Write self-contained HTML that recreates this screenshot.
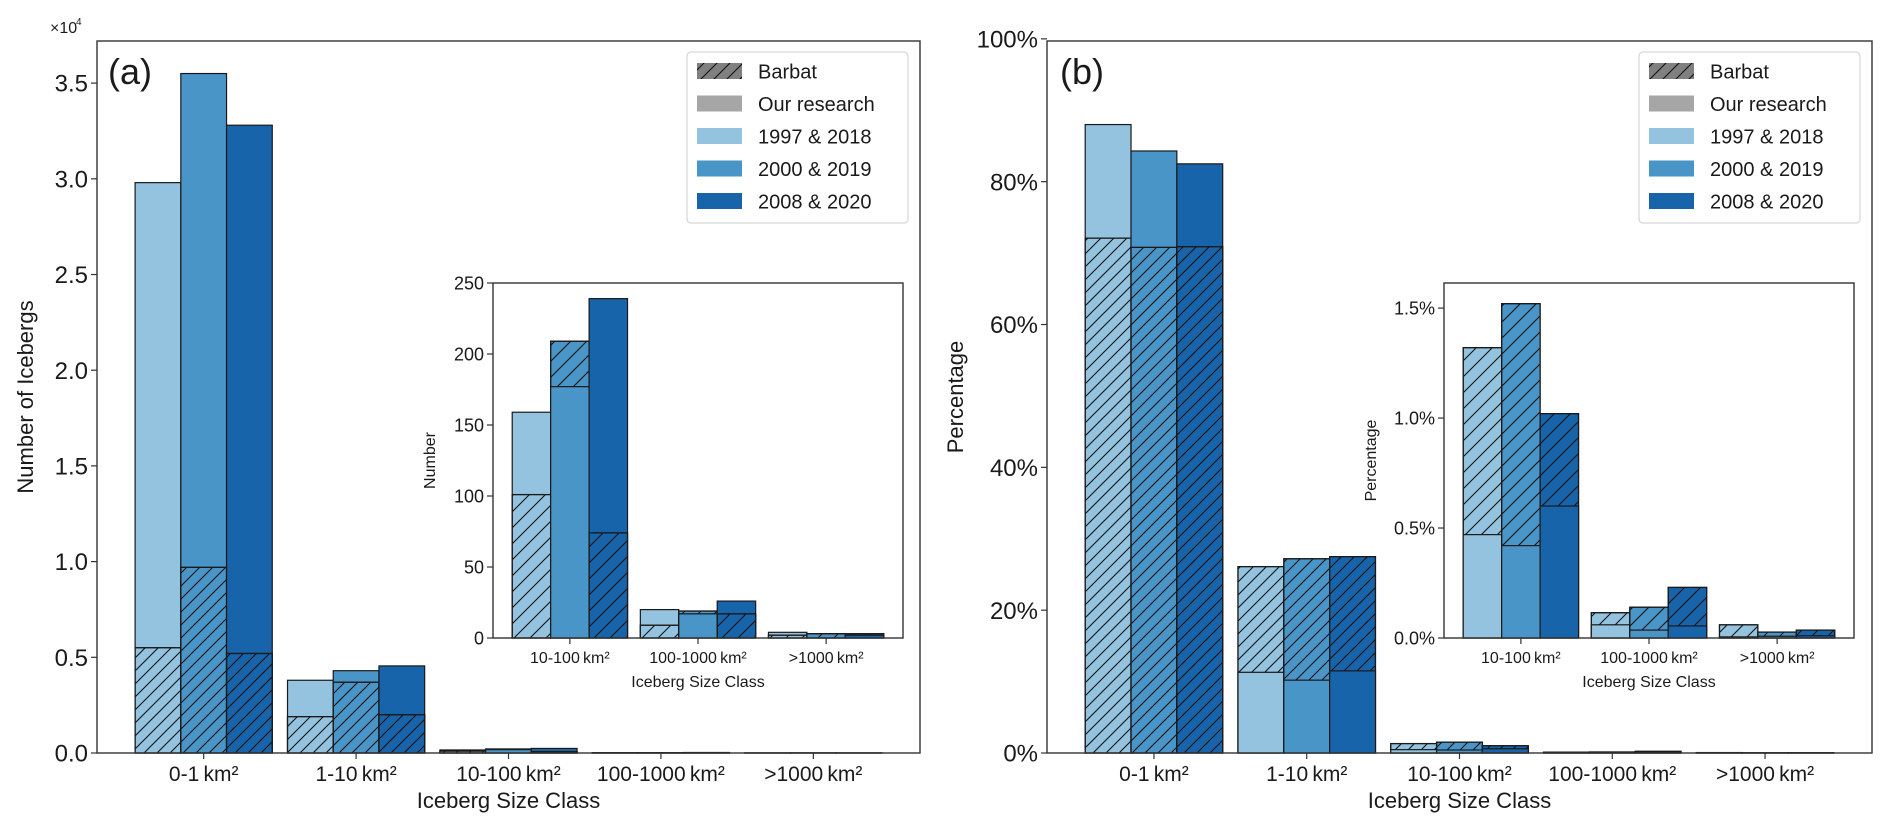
<!DOCTYPE html>
<html><head><meta charset="utf-8">
<style>
html,body{margin:0;padding:0;background:#fff;}
svg{display:block;font-family:"Liberation Sans",Arial,sans-serif;}
</style></head>
<body>
<svg id="fig" width="1892" height="837" viewBox="0 0 1892 837" xmlns="http://www.w3.org/2000/svg">
<defs>
<pattern id="hatchMain" patternUnits="userSpaceOnUse" width="13" height="13">
<path d="M0,13 L13,0 M-3,3 L3,-3 M10,16 L16,10" stroke="#111" stroke-width="1.1"/>
</pattern>
<pattern id="hatchInset" patternUnits="userSpaceOnUse" width="16" height="16">
<path d="M0,16 L16,0 M-4,4 L4,-4 M12,20 L20,12" stroke="#111" stroke-width="1.1"/>
</pattern>
</defs>
</svg>
<script>
// ---------- data ----------
const categories = ['0-1\u2009km\u00b2','1-10\u2009km\u00b2','10-100\u2009km\u00b2','100-1000\u2009km\u00b2','>1000\u2009km\u00b2'];
const insetCategories = ['10-100\u2009km\u00b2','100-1000\u2009km\u00b2','>1000\u2009km\u00b2'];
const seriesLabels = ['1997 & 2018','2000 & 2019','2008 & 2020'];
const seriesColors = ['#94c3e0','#4a95c7','#1864aa'];

// Panel (a): counts (x10^4)
const countOurs1997 = [2.98, 0.38, 0.0159, 0.0020, 0.0004];
const countOurs2000 = [3.55, 0.43, 0.0177, 0.0017, 0.0003];
const countOurs2008 = [3.28, 0.455, 0.0239, 0.0026, 0.0002];
const countBarbat1997 = [0.55, 0.19, 0.0101, 0.0009, 0.0002];
const countBarbat2000 = [0.97, 0.37, 0.0209, 0.0019, 0.0003];
const countBarbat2008 = [0.52, 0.20, 0.0074, 0.0017, 0.0003];
const countTicks = [0,0.5,1.0,1.5,2.0,2.5,3.0,3.5];
const countTickLabels = ['0.0','0.5','1.0','1.5','2.0','2.5','3.0','3.5'];

// Panel (a) inset: counts
const insetCountOurs1997 = [159, 20, 4];
const insetCountOurs2000 = [177, 17, 3];
const insetCountOurs2008 = [239, 26, 2];
const insetCountBarbat1997 = [101, 9, 2];
const insetCountBarbat2000 = [209, 19, 3];
const insetCountBarbat2008 = [74, 17, 3];
const insetCountTicks = [0,50,100,150,200,250];

// Panel (b): percentages
const pctOurs1997 = [88.0, 11.3, 0.47, 0.06, 0.005];
const pctOurs2000 = [84.3, 10.2, 0.42, 0.036, 0.008];
const pctOurs2008 = [82.5, 11.5, 0.60, 0.055, 0.01];
const pctBarbat1997 = [72.1, 26.1, 1.32, 0.115, 0.06];
const pctBarbat2000 = [70.8, 27.2, 1.52, 0.14, 0.027];
const pctBarbat2008 = [70.9, 27.5, 1.02, 0.23, 0.036];
const pctTicks = [0,20,40,60,80,100];
const pctTickLabels = ['0%','20%','40%','60%','80%','100%'];

// Panel (b) inset
const insetPctOurs1997 = [0.47, 0.06, 0.005];
const insetPctOurs2000 = [0.42, 0.036, 0.008];
const insetPctOurs2008 = [0.60, 0.055, 0.01];
const insetPctBarbat1997 = [1.32, 0.115, 0.06];
const insetPctBarbat2000 = [1.52, 0.14, 0.027];
const insetPctBarbat2008 = [1.02, 0.23, 0.036];
const insetPctTicks = [0,0.5,1.0,1.5];
const insetPctTickLabels = ['0.0%','0.5%','1.0%','1.5%'];

// ---------- drawing ----------
const NS='http://www.w3.org/2000/svg';
const svg=document.getElementById('fig');
function mk(tag,attrs,parent){const e=document.createElementNS(NS,tag);for(const k in attrs)e.setAttribute(k,attrs[k]);(parent||svg).appendChild(e);return e;}
function txt(s,attrs,parent){const e=mk('text',attrs,parent);e.textContent=s;return e;}

function drawAxes(o){
  const g=mk('g',{});
  
  
  const bottom=o.top+o.height;
  const sx=v=>o.left+(v-o.xmin)/(o.xmax-o.xmin)*o.width;
  const sy=v=>bottom-v/o.ymax*o.height;
  mk('rect',{x:o.left,y:o.top,width:o.width,height:o.height,fill:'#fff'},g);
  const bw=0.3;
  for(let c=0;c<o.cats.length;c++){
    for(let s=0;s<3;s++){
      const xo=sx(c+(s-1)*bw-bw/2), w=sx(bw)-sx(0);
      const ov=o.ours[s][c], bv=o.barbat[s][c];
      const segs=[{v:ov,h:false},{v:bv,h:true}].sort((a,b)=>b.v-a.v);
      for(const sg of segs){
        const y=sy(sg.v), hh=bottom-y;
        const r=mk('rect',{x:xo,y:y,width:w,height:hh,fill:seriesColors[s],stroke:'#1a1a1a','stroke-width':1.2},g);
        
        
        if(sg.h){
          const hr=mk('rect',{x:xo,y:y,width:w,height:hh,fill:'url(#'+o.hatch+')',stroke:'#1a1a1a','stroke-width':1.2},g);
          
          
        }
      }
    }
  }
  const sp=mk('rect',{x:o.left,y:o.top,width:o.width,height:o.height,fill:'none',stroke:'#333','stroke-width':1.4},g);
  
  
  o.ticks.forEach((t,i)=>{
    const y=sy(t);
    mk('line',{x1:o.left-6,x2:o.left,y1:y,y2:y,stroke:'#333','stroke-width':1.2},g);
    const l=txt(o.tickLabels[i],{x:o.left-9,y:y+o.tickFont*0.36,'text-anchor':'end','font-size':o.tickFont,fill:'#1a1a1a'},g);
    
    
  });
  o.cats.forEach((c,i)=>{
    const x=sx(i);
    mk('line',{x1:x,x2:x,y1:bottom,y2:bottom+6,stroke:'#333','stroke-width':1.2},g);
    const l=txt(c,{x:x,y:o.catBase,'text-anchor':'middle','font-size':o.catFont,fill:'#1a1a1a'},g);
    
    
  });
  const t=txt(o.title,{x:o.left+o.width/2,y:o.titleBase,'text-anchor':'middle','font-size':o.titleFont,fill:'#1a1a1a'},g);
  
  
  const cy=o.top+o.height/2;
  const yl=txt(o.ylabel,{x:o.ylabelX,y:cy,'text-anchor':'middle','font-size':o.ylabelFont,fill:'#1a1a1a',transform:'rotate(-90 '+o.ylabelX+' '+cy+')'},g);
  
  
  return g;
}

function drawLegend(x,y,name){
  const g=mk('g',{});
  
  
  mk('rect',{x:x,y:y,width:221,height:171,rx:4,fill:'#fff',stroke:'#d6d6d6','stroke-width':1.2},g);
  const items=[{l:'Barbat',c:'#808080',h:true},{l:'Our research',c:'#a6a6a6'},{l:seriesLabels[0],c:seriesColors[0]},{l:seriesLabels[1],c:seriesColors[1]},{l:seriesLabels[2],c:seriesColors[2]}];
  items.forEach((it,i)=>{
    const cy=y+19+i*32.5;
    const e=mk('g',{},g);
    
    
    mk('rect',{x:x+10,y:cy-8,width:45,height:16,fill:it.c},e);
    if(it.h) mk('rect',{x:x+10,y:cy-8,width:45,height:16,fill:'url(#hatchMain)'},e);
    txt(it.l,{x:x+71,y:cy+7.5,'font-size':20,fill:'#1a1a1a'},e);
  });
}

drawAxes({name:'panel-a-main',left:97,top:41,width:823,height:712,xmin:-0.7,xmax:4.7,ymax:3.72,cats:categories,
  ours:[countOurs1997,countOurs2000,countOurs2008],barbat:[countBarbat1997,countBarbat2000,countBarbat2008],
  ticks:countTicks,tickLabels:countTickLabels,tickFont:24,catFont:21,hatch:'hatchMain',catBase:781,titleBase:808,
  title:'Iceberg Size Class',titleFont:22,ylabel:'Number of Icebergs',ylabelX:33,ylabelFont:22});
drawLegend(687,52,'legend-a');
drawAxes({name:'panel-a-inset',left:493,top:283,width:410,height:355,xmin:-0.6,xmax:2.6,ymax:250,cats:insetCategories,
  ours:[insetCountOurs1997,insetCountOurs2000,insetCountOurs2008],barbat:[insetCountBarbat1997,insetCountBarbat2000,insetCountBarbat2008],
  ticks:insetCountTicks,tickLabels:insetCountTicks.map(String),tickFont:18,catFont:16,hatch:'hatchInset',catBase:663,titleBase:687,
  title:'Iceberg Size Class',titleFont:16,ylabel:'Number',ylabelX:435,ylabelFont:16});

drawAxes({name:'panel-b-main',left:1047,top:41,width:825,height:712,xmin:-0.7,xmax:4.7,ymax:99.7,cats:categories,
  ours:[pctOurs1997,pctOurs2000,pctOurs2008],barbat:[pctBarbat1997,pctBarbat2000,pctBarbat2008],
  ticks:pctTicks,tickLabels:pctTickLabels,tickFont:24,catFont:21,hatch:'hatchMain',catBase:781,titleBase:808,
  title:'Iceberg Size Class',titleFont:22,ylabel:'Percentage',ylabelX:963,ylabelFont:22});
drawLegend(1639,52,'legend-b');
drawAxes({name:'panel-b-inset',left:1444,top:283,width:410,height:355,xmin:-0.6,xmax:2.6,ymax:1.614,cats:insetCategories,
  ours:[insetPctOurs1997,insetPctOurs2000,insetPctOurs2008],barbat:[insetPctBarbat1997,insetPctBarbat2000,insetPctBarbat2008],
  ticks:insetPctTicks,tickLabels:insetPctTickLabels,tickFont:18,catFont:16,hatch:'hatchInset',catBase:663,titleBase:687,
  title:'Iceberg Size Class',titleFont:16,ylabel:'Percentage',ylabelX:1376,ylabelFont:16});

const la=txt('(a)',{x:108,y:84,'font-size':36,fill:'#1a1a1a'});


const lb=txt('(b)',{x:1060,y:84,'font-size':36,fill:'#1a1a1a'});


const mult=txt('\u00d710',{x:50,y:33,'font-size':16,fill:'#1a1a1a'});


const sup=txt('4',{x:76,y:25,'font-size':10,fill:'#1a1a1a'});


</script>
</body></html>
